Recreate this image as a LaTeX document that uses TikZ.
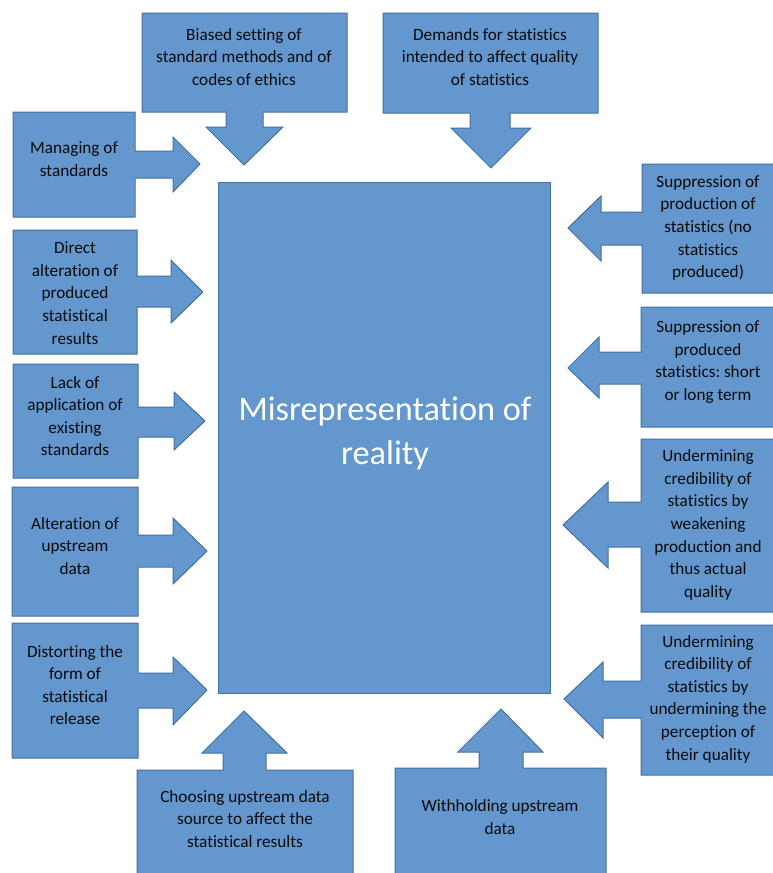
\documentclass[tikz,border=0pt]{standalone}
\usepackage{fontspec}
\setmainfont{Carlito}[Ligatures={NoCommon,NoContextual}]
\frenchspacing
\definecolor{boxfill}{RGB}{100,151,205}
\definecolor{boxline}{RGB}{65,113,160}
\definecolor{txt}{RGB}{10,10,10}
\begin{document}
\begin{tikzpicture}[x=1pt,y=-1pt,
  callout/.style={fill=boxfill,draw=boxline,line width=1pt,line join=miter},
  lbl/.style={align=center,text=txt,inner sep=0pt,font=\fontsize{17.2}{22.6}\selectfont},
  mainlbl/.style={align=center,text=white,inner sep=0pt,font=\fontsize{34.3}{44}\selectfont}]
\useasboundingbox (0,0) rectangle (773,873);
\begin{scope}
\clip (0,0) rectangle (773,873);
% centre
\draw[callout] (218,182) rectangle (550,693);
% left callouts
\draw[callout] (13,112) -- (135,112) -- (135,151) -- (173,151) -- (173,137) -- (200,164) -- (173,192) -- (173,178) -- (135,178) -- (135,217) -- (13,217) -- cycle;
\draw[callout] (13,230) -- (137,230) -- (137,276) -- (171,276) -- (171,260) -- (203,292) -- (171,323) -- (171,307) -- (137,307) -- (137,354) -- (13,354) -- cycle;
\draw[callout] (13,364) -- (138,364) -- (138,407) -- (174,407) -- (174,392) -- (205,421) -- (174,450) -- (174,437) -- (138,437) -- (138,478) -- (13,478) -- cycle;
\draw[callout] (12,487) -- (138,487) -- (138,535) -- (173,535) -- (173,518) -- (207,551) -- (173,584) -- (173,567) -- (138,567) -- (138,616) -- (12,616) -- cycle;
\draw[callout] (12,623) -- (138,623) -- (138,673) -- (173,673) -- (173,657) -- (207,690) -- (173,725) -- (173,708) -- (138,708) -- (138,758) -- (12,758) -- cycle;
% top callouts
\draw[callout] (142,13) -- (347,13) -- (347,112) -- (263,112) -- (263,127) -- (283,127) -- (244,165) -- (206,127) -- (226,127) -- (226,112) -- (142,112) -- cycle;
\draw[callout] (383,13) -- (598,13) -- (598,113) -- (510,113) -- (510,128) -- (531,128) -- (491,168) -- (451,128) -- (470,128) -- (470,113) -- (383,113) -- cycle;
% right callouts
\draw[callout] (776,164) -- (642,164) -- (642,212) -- (601,212) -- (601,196) -- (568,228) -- (601,261) -- (601,245) -- (642,245) -- (642,293) -- (776,293) -- cycle;
\draw[callout] (776,307) -- (641,307) -- (641,352) -- (599,352) -- (599,337) -- (568,368) -- (599,398) -- (599,384) -- (641,384) -- (641,427) -- (776,427) -- cycle;
\draw[callout] (776,439) -- (641,439) -- (641,502) -- (608,502) -- (608,482) -- (563,525) -- (608,568) -- (608,547) -- (641,547) -- (641,612) -- (776,612) -- cycle;
\draw[callout] (776,625) -- (641,625) -- (641,681) -- (603,681) -- (603,662) -- (564,699) -- (603,738) -- (603,718) -- (641,718) -- (641,775) -- (776,775) -- cycle;
% bottom callouts
\draw[callout] (137,880) -- (137,770) -- (223,770) -- (223,753) -- (202,753) -- (244,711) -- (287,753) -- (266,753) -- (266,770) -- (353,770) -- (353,880) -- cycle;
\draw[callout] (395,880) -- (395,768) -- (479,768) -- (479,752) -- (458,752) -- (501,709) -- (543,752) -- (523,752) -- (523,768) -- (606,768) -- (606,880) -- cycle;
\end{scope}
% labels
\node[mainlbl] (main) at (385,433) {Misrepresentation of\\reality};
\node[lbl] (l1) at (74,159) {Managing of\\standards};
\node[lbl] (l2) at (75,293) {Direct\\alteration of\\produced\\statistical\\results};
\node[lbl] (l3) at (75,416) {Lack of\\application of\\existing\\standards};
\node[lbl] (l4) at (75,546) {Alteration of\\upstream\\data};
\node[lbl] (l5) at (75,685) {Distorting the\\form of\\statistical\\release};
\node[lbl] (t1) at (244,57) {Biased setting of\\standard methods and of\\codes of ethics};
\node[lbl] (t2) at (490,57) {Demands for statistics\\intended to affect quality\\of statistics};
\node[lbl] (r1) at (708,228) {Suppression of\\production of\\statistics (no\\statistics\\produced)};
\node[lbl] (r2) at (708,362) {Suppression of\\produced\\statistics: short\\or long term};
\node[lbl] (r3) at (708,525) {Undermining\\credibility of\\statistics by\\weakening\\production and\\thus actual\\quality};
\node[lbl] (r4) at (708,699) {Undermining\\credibility of\\statistics by\\undermining the\\perception of\\their quality};
\node[lbl] (b1) at (245,819) {Choosing upstream data\\source to affect the\\statistical results};
\node[lbl] (b2) at (500,817) {Withholding upstream\\data};
\end{tikzpicture}
\end{document}
